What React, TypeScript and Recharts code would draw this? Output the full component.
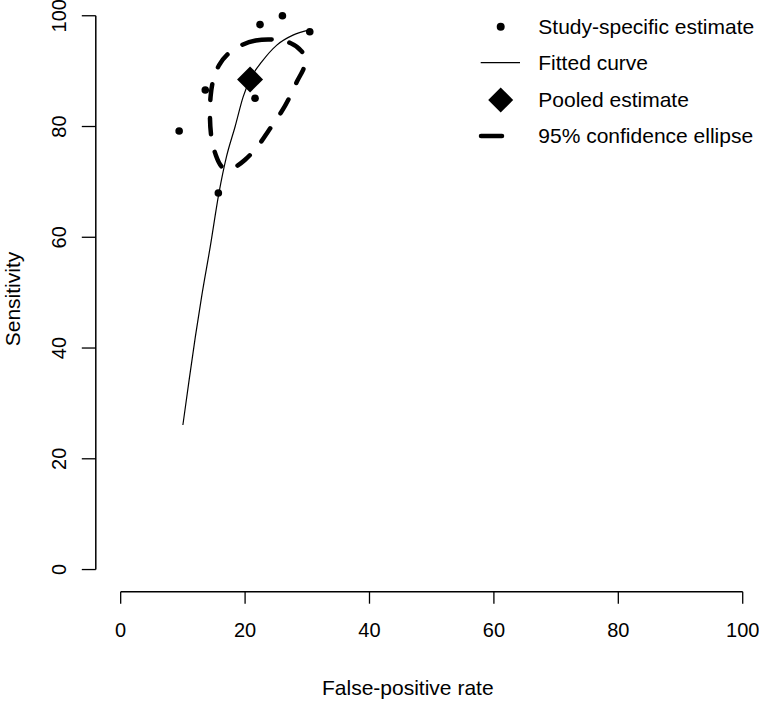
import React from 'react';
import { ComposedChart, XAxis, YAxis, Line, Scatter, ReferenceLine, Legend } from 'recharts';

const xTicks = [0, 20, 40, 60, 80, 100];
const yTicks = [0, 20, 40, 60, 80, 100];

const xTitle = 'False-positive rate';
const yTitle = 'Sensitivity';

const legendLabels = [
  'Study-specific estimate',
  'Fitted curve',
  'Pooled estimate',
  '95% confidence ellipse',
];

// false-positive rate (x) vs sensitivity (y), both in %
const studyPoints = [
  { x: 26.0, y: 100.0 },
  { x: 22.4, y: 98.4 },
  { x: 30.4, y: 97.1 },
  { x: 13.6, y: 86.6 },
  { x: 21.6, y: 85.1 },
  { x: 9.4, y: 79.2 },
  { x: 15.7, y: 68.0 },
];

const pooledPoint = [{ x: 20.8, y: 88.5 }];

const fittedCurve = [
  { x: 10.0, y: 26.1 },
  { x: 11.0, y: 34.2 },
  { x: 12.0, y: 42.0 },
  { x: 13.0, y: 49.2 },
  { x: 14.4, y: 58.3 },
  { x: 15.8, y: 68.0 },
  { x: 17.0, y: 74.5 },
  { x: 18.4, y: 80.0 },
  { x: 19.7, y: 85.4 },
  { x: 20.8, y: 88.5 },
  { x: 22.7, y: 91.7 },
  { x: 25.1, y: 94.7 },
  { x: 27.7, y: 96.5 },
  { x: 30.2, y: 97.4 },
];

const confidenceEllipse = [
  { x: 19.0, y: 94.6 },
  { x: 21.6, y: 95.7 },
  { x: 24.8, y: 95.8 },
  { x: 27.5, y: 95.2 },
  { x: 29.3, y: 93.6 },
  { x: 29.9, y: 91.8 },
  { x: 29.2, y: 89.8 },
  { x: 28.5, y: 88.6 },
  { x: 27.2, y: 85.3 },
  { x: 25.9, y: 82.6 },
  { x: 23.7, y: 79.2 },
  { x: 22.4, y: 76.8 },
  { x: 20.0, y: 73.8 },
  { x: 17.6, y: 72.0 },
  { x: 16.2, y: 72.4 },
  { x: 15.3, y: 74.6 },
  { x: 14.5, y: 77.8 },
  { x: 14.3, y: 81.9 },
  { x: 14.4, y: 85.6 },
  { x: 14.9, y: 89.0 },
  { x: 15.8, y: 91.2 },
  { x: 17.0, y: 93.0 },
];

const FONT = '"Liberation Sans", Arial, sans-serif';

const XTick = (props: any) => {
  const { x, y, payload } = props;
  return (
    <text x={x} y={y + 33} textAnchor="middle" fontSize={20} fontFamily={FONT} fill="#000">
      {payload.value}
    </text>
  );
};

const YTick = (props: any) => {
  const { x, y, payload } = props;
  const bx = x - 15.3;
  return (
    <text
      x={bx}
      y={y}
      transform={`rotate(-90, ${bx}, ${y})`}
      textAnchor="middle"
      fontSize={20}
      fontFamily={FONT}
      fill="#000"
    >
      {payload.value}
    </text>
  );
};

const Dot = (props: any) => {
  const { cx, cy } = props;
  return <circle cx={cx} cy={cy} r={3.8} fill="#000" />;
};

const Diamond = (props: any) => {
  const { cx, cy } = props;
  const h = 13;
  return <polygon points={`${cx},${cy - h} ${cx + h},${cy} ${cx},${cy + h} ${cx - h},${cy}`} fill="#000" />;
};

const LegendBox = () => {
  const rows = [26.7, 62.7, 100, 136];
  return (
    <svg width={300} height={160}>
      <circle cx={30.7} cy={rows[0]} r={4} fill="#000" />
      <line x1={10.7} x2={50} y1={rows[1]} y2={rows[1]} stroke="#000" strokeWidth={1.2} />
      <polygon
        points={`30.7,${rows[2] - 12.5} 43.2,${rows[2]} 30.7,${rows[2] + 12.5} 18.2,${rows[2]}`}
        fill="#000"
      />
      <line x1={11} x2={32} y1={rows[3]} y2={rows[3]} stroke="#000" strokeWidth={4.5} strokeLinecap="round" />
      {legendLabels.map((label, i) => (
        <text
          key={label}
          x={68.3}
          y={rows[i] + 7.3}
          fontSize={21}
          fontFamily={FONT}
          fill="#000"
        >
          {label}
        </text>
      ))}
    </svg>
  );
};

export default function App() {
  return (
    <div
      style={{
        position: 'absolute',
        left: 0,
        top: 0,
        width: 759,
        height: 701,
        overflow: 'hidden',
        background: '#fff',
      }}
    >
      <div style={{ position: 'absolute', left: 0, top: -10 }}>
        <ComposedChart width={800} height={711} margin={{ top: 3.6, right: 32.4, bottom: 0, left: 0 }}>
          <XAxis
            type="number"
            dataKey="x"
            domain={[-4, 104]}
            allowDataOverflow
            ticks={xTicks}
            interval={0}
            axisLine={false}
            tickLine={{ stroke: '#000', strokeWidth: 1.3 }}
            tickSize={12}
            tickMargin={0}
            tick={XTick}
            height={109.3}
            label={() => (
              <text x={322} y={705} fontSize={21} fontFamily={FONT} fill="#000">
                {xTitle}
              </text>
            )}
          />
          <YAxis
            type="number"
            dataKey="y"
            domain={[-4, 104]}
            allowDataOverflow
            ticks={yTicks}
            interval={0}
            axisLine={false}
            tickLine={{ stroke: '#000', strokeWidth: 1.3 }}
            tickSize={14}
            tickMargin={0}
            tick={YTick}
            width={95.8}
            label={() => (
              <text
                x={20}
                y={309}
                transform="rotate(-90, 20, 309)"
                textAnchor="middle"
                fontSize={21}
                fontFamily={FONT}
                fill="#000"
              >
                {yTitle}
              </text>
            )}
          />
          <ReferenceLine
            segment={[{ x: 0, y: -4 }, { x: 100, y: -4 }]}
            stroke="#000"
            strokeWidth={1.5}
            ifOverflow="visible"
          />
          <ReferenceLine
            segment={[{ x: -4, y: 0 }, { x: -4, y: 100 }]}
            stroke="#000"
            strokeWidth={1.5}
            ifOverflow="visible"
          />
          <Line
            data={fittedCurve}
            dataKey="y"
            type="monotone"
            stroke="#000"
            strokeWidth={1.2}
            dot={false}
            activeDot={false}
            isAnimationActive={false}
            legendType="none"
          />
          <Line
            data={confidenceEllipse}
            dataKey="y"
            type="basisClosed"
            stroke="#000"
            strokeWidth={4.5}
            strokeDasharray="16 18"
            strokeLinecap="round"
            dot={false}
            activeDot={false}
            isAnimationActive={false}
            legendType="none"
          />
          <Scatter data={studyPoints} dataKey="y" shape={Dot} isAnimationActive={false} legendType="none" />
          <Scatter data={pooledPoint} dataKey="y" shape={Diamond} isAnimationActive={false} legendType="none" />
          <Legend
            layout="vertical"
            align="center"
            verticalAlign="middle"
            content={LegendBox}
            wrapperStyle={{ position: 'absolute', left: 470, top: 10, width: 300, height: 160 }}
          />
        </ComposedChart>
      </div>
    </div>
  );
}
